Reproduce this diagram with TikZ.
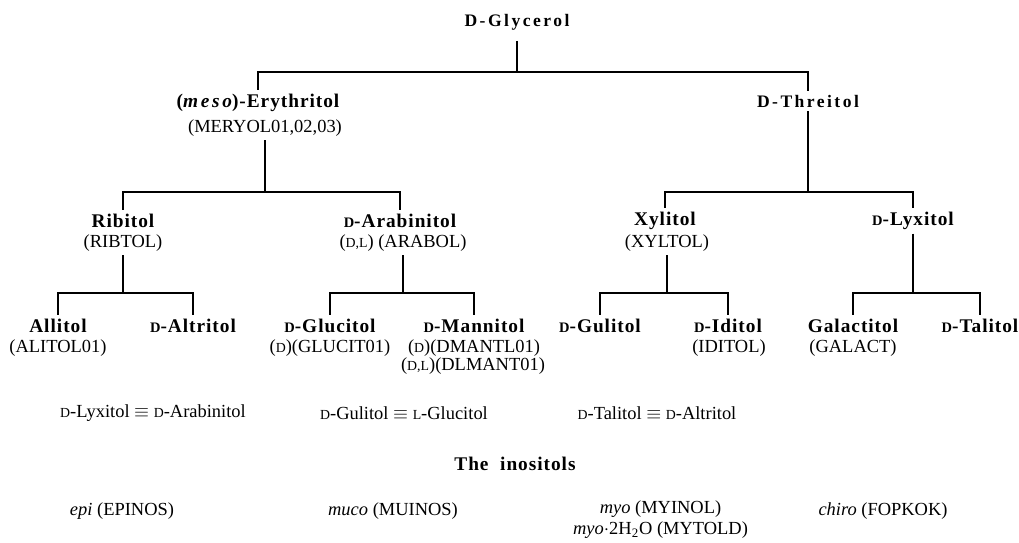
\documentclass[tikz,border=0pt]{standalone}
\usepackage{fontspec}
\setmainfont{Liberation Serif}
\newfontfamily\wide[LetterSpace=14]{Liberation Serif}
\newfontfamily\midwide[LetterSpace=5]{Liberation Serif}
\makeatletter
\newcommand\sml[1]{{\fontsize{\fpeval{0.75*\f@size}}{0}\selectfont #1}}
\makeatother
\tikzset{
  compound/.style={font=\fontsize{11}{13}\selectfont\midwide\bfseries,inner sep=2pt},
  rootlbl/.style={font=\fontsize{10}{12}\selectfont\wide\bfseries,inner sep=2pt},
  refcode/.style={font=\fontsize{10.5}{12}\selectfont,inner sep=2pt},
  eqnote/.style={font=\fontsize{10.5}{12}\selectfont,inner sep=0pt},
  treeline/.style={line width=0.6pt}
}
\begin{document}
\begin{tikzpicture}
  \useasboundingbox (0,0) rectangle (20.38,-10.84);
%%% tetritols and glycerol
  \node[rootlbl] (gly) at (10.34,-0.44) {D-Glycerol};
  \node[compound] (ery) at (5.16,-2.06) {({\wide\itshape meso})-Erythritol};
  \node[refcode] (eryc) at (5.30,-2.56) {(MERYOL01,02,03)};
  \node[rootlbl] (thr) at (16.16,-2.02) {D-Threitol};
%%% pentitols
  \node[compound] (rib) at (2.46,-4.42) {Ribitol};
  \node[refcode] (ribc) at (2.46,-4.86) {(RIBTOL)};
  \node[compound] (ara) at (8.0,-4.42) {\sml{D}-Arabinitol};
  \node[refcode] (arac) at (8.06,-4.86) {(\sml{D,L}) (ARABOL)};
  \node[compound] (xyl) at (13.30,-4.42) {Xylitol};
  \node[refcode] (xylc) at (13.34,-4.86) {(XYLTOL)};
  \node[compound] (lyx) at (18.26,-4.42) {\sml{D}-Lyxitol};
%%% hexitols
  \node[compound] (all) at (1.16,-6.52) {Allitol};
  \node[refcode] (allc) at (1.16,-6.96) {(ALITOL01)};
  \node[compound] (alt) at (3.86,-6.52) {\sml{D}-Altritol};
  \node[compound] (glu) at (6.60,-6.52) {\sml{D}-Glucitol};
  \node[refcode] (gluc) at (6.60,-6.96) {(\sml{D})(GLUCIT01)};
  \node[compound] (man) at (9.48,-6.52) {\sml{D}-Mannitol};
  \node[refcode] (manc) at (9.48,-6.96) {(\sml{D})(DMANTL01)};
  \node[refcode] (mand) at (9.46,-7.32) {(\sml{D,L})(DLMANT01)};
  \node[compound] (gul) at (12.0,-6.52) {\sml{D}-Gulitol};
  \node[compound] (idi) at (14.56,-6.52) {\sml{D}-Iditol};
  \node[refcode] (idic) at (14.58,-6.96) {(IDITOL)};
  \node[compound] (gal) at (17.06,-6.52) {Galactitol};
  \node[refcode] (galc) at (17.06,-6.96) {(GALACT)};
  \node[compound] (tal) at (19.6,-6.52) {\sml{D}-Talitol};
%%% connectors
  \coordinate (bar1) at (0,-1.44);
  \coordinate (bar2) at (0,-3.84);
  \coordinate (bar3) at (0,-5.86);
  \draw[treeline] ([yshift=-4pt]gly.south) -- (gly.south |- bar1) -| (ery.north);
  \draw[treeline] (gly.south |- bar1) -| (thr.north);
  \draw[treeline] (eryc.south) -- (eryc.south |- bar2) -| (rib.north);
  \draw[treeline] (eryc.south |- bar2) -| (ara.north);
  \draw[treeline] (thr.south) -- (thr.south |- bar2) -| (xyl.north);
  \draw[treeline] (thr.south |- bar2) -| (lyx.north);
  \draw[treeline] (ribc.south) -- (ribc.south |- bar3) -| (all.north);
  \draw[treeline] (ribc.south |- bar3) -| (alt.north);
  \draw[treeline] (arac.south) -- (arac.south |- bar3) -| (glu.north);
  \draw[treeline] (arac.south |- bar3) -| (man.north);
  \draw[treeline] (xylc.south) -- (xylc.south |- bar3) -| (gul.north);
  \draw[treeline] (xylc.south |- bar3) -| (idi.north);
  \draw[treeline] (lyx.south) -- (lyx.south |- bar3) -| (gal.north);
  \draw[treeline] (lyx.south |- bar3) -| (tal.north);
%%% equivalences
  \node[eqnote] (eq1) at (3.06,-8.26) {\sml{D}-Lyxitol $\equiv$ \sml{D}-Arabinitol};
  \node[eqnote] (eq2) at (8.08,-8.26) {\sml{D}-Gulitol $\equiv$ \sml{L}-Glucitol};
  \node[eqnote] (eq3) at (13.14,-8.26) {\sml{D}-Talitol $\equiv$ \sml{D}-Altritol};
%%% inositols
  \node[compound] (ino) at (10.30,-9.28) {The\ \ inositols};
  \node[eqnote] (epi) at (2.44,-10.22) {\textit{epi} (EPINOS)};
  \node[eqnote] (muc) at (7.86,-10.22) {\textit{muco} (MUINOS)};
  \node[eqnote,align=center] (myo) at (13.21,-10.40)
    {\textit{myo} (MYINOL)\\\textit{myo}$\cdot$2H\textsubscript{2}O (MYTOLD)};
  \node[eqnote] (chi) at (17.66,-10.22) {\textit{chiro} (FOPKOK)};
\end{tikzpicture}
\end{document}
